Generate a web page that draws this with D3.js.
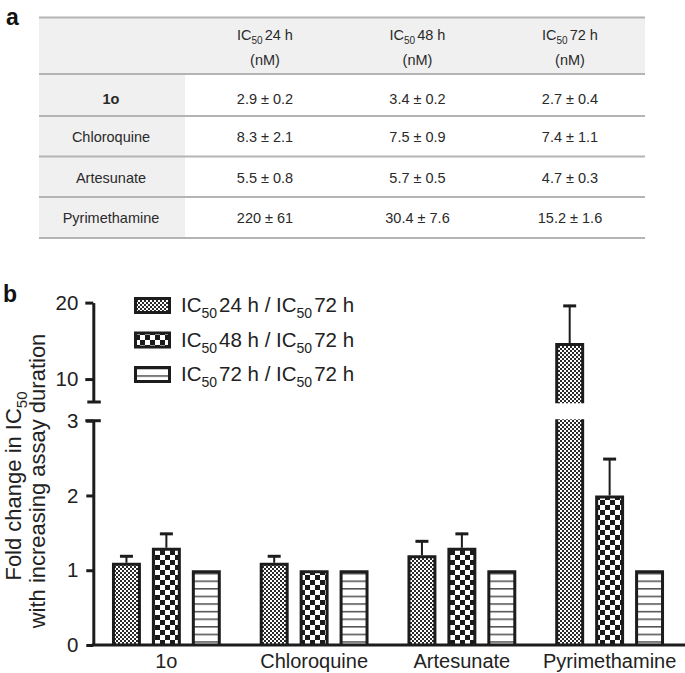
<!DOCTYPE html>
<html><head><meta charset="utf-8">
<script src="https://cdn.jsdelivr.net/npm/d3@7"></script>
<style>
html,body{margin:0;padding:0;background:#fff;}
svg{display:block;font-family:"Liberation Sans",Arial,Helvetica,sans-serif;}
</style></head>
<body>
<svg id="c" width="685" height="673"></svg>
<script>
// ---- Table data (panel a)
const tableRows = ["1o", "Chloroquine", "Artesunate", "Pyrimethamine"];
const tableHeaders = ["24 h", "48 h", "72 h"];
const ic24 = ["2.9 \u00b1 0.2", "8.3 \u00b1 2.1", "5.5 \u00b1 0.8", "220 \u00b1 61"];
const ic48 = ["3.4 \u00b1 0.2", "7.5 \u00b1 0.9", "5.7 \u00b1 0.5", "30.4 \u00b1 7.6"];
const ic72 = ["2.7 \u00b1 0.4", "7.4 \u00b1 1.1", "4.7 \u00b1 0.3", "15.2 \u00b1 1.6"];

// ---- Chart data (panel b)
const categories = ["1o", "Chloroquine", "Artesunate", "Pyrimethamine"];
const seriesKeys = ["24 h", "48 h", "72 h"];
const fold24 = [1.1, 1.1, 1.2, 14.7];
const err24  = [0.1, 0.1, 0.2, 5.0];
const fold48 = [1.3, 1.0, 1.3, 2.0];
const err48  = [0.2, 0.0, 0.2, 0.5];
const fold72 = [1.0, 1.0, 1.0, 1.0];
const err72  = [0.0, 0.0, 0.0, 0.0];
const lowerTicks = [0, 1, 2, 3];
const upperTicks = [10, 20];

const svg = d3.select("#c");
const INK = "#1c1c1c";

// ---------- patterns
const defs = svg.append("defs");
const p1 = defs.append("pattern").attr("id","pat24").attr("patternUnits","userSpaceOnUse").attr("width",4).attr("height",4);
p1.append("rect").attr("width",4).attr("height",4).attr("fill","#fff");
p1.append("rect").attr("width",2).attr("height",2).attr("fill","#2a2a2a");
p1.append("rect").attr("x",2).attr("y",2).attr("width",2).attr("height",2).attr("fill","#2a2a2a");
const p2 = defs.append("pattern").attr("id","pat48").attr("patternUnits","userSpaceOnUse").attr("width",10).attr("height",10);
p2.append("rect").attr("width",10).attr("height",10).attr("fill","#fff");
p2.append("rect").attr("width",5).attr("height",5).attr("fill","#1a1a1a");
p2.append("rect").attr("x",5).attr("y",5).attr("width",5).attr("height",5).attr("fill","#1a1a1a");
const p3 = defs.append("pattern").attr("id","pat72").attr("patternUnits","userSpaceOnUse").attr("width",8).attr("height",7.6);
p3.append("rect").attr("width",8).attr("height",7.6).attr("fill","#fff");
p3.append("rect").attr("y",3).attr("width",8).attr("height",1.3).attr("fill","#333");
const patIds = ["pat24","pat48","pat72"];

// ---------- panel labels
svg.append("text").attr("x",6).attr("y",25).attr("font-size",23).attr("font-weight","bold").attr("fill","#111").text("a");
svg.append("text").attr("x",3).attr("y",302).attr("font-size",23).attr("font-weight","bold").attr("fill","#111").text("b");

// ---------- table
const tL = 39, tR = 645, tColEnd = 185;
const lineYs = [17.5, 74, 116, 156.5, 197, 238];
const colX = d3.scalePoint().domain(tableHeaders).range([265, 570]);
const tg = svg.append("g").attr("font-size",14.5).attr("fill","#2a2a2a");
tg.append("rect").attr("x",tL).attr("y",lineYs[0]).attr("width",tR-tL).attr("height",lineYs[1]-lineYs[0]).attr("fill","#f0f0f0");
tg.append("rect").attr("x",tL).attr("y",lineYs[1]).attr("width",tColEnd-tL).attr("height",lineYs[5]-lineYs[1]).attr("fill","#f0f0f0");
tg.selectAll("line.h").data(lineYs).join("line").attr("class","h")
  .attr("x1",tL).attr("x2",tR).attr("y1",d=>d).attr("y2",d=>d)
  .attr("stroke","#b4b4b4").attr("stroke-width",2);
tableHeaders.forEach(h=>{
  const t = tg.append("text").attr("x",colX(h)).attr("y",40).attr("text-anchor","middle");
  t.append("tspan").text("IC");
  t.append("tspan").attr("font-size",10).attr("dy",4).text("50");
  t.append("tspan").attr("dy",-4).attr("dx",2).text(h);
  tg.append("text").attr("x",colX(h)).attr("y",65).attr("text-anchor","middle").text("(nM)");
});
const rowBase = [103.5, 142, 183, 223];
const cols = [ic24, ic48, ic72];
tableRows.forEach((r,i)=>{
  tg.append("text").attr("x",111).attr("y",rowBase[i]).attr("text-anchor","middle")
    .attr("font-weight", i===0 ? "bold" : "normal").text(r);
  cols.forEach((c,j)=>{
    tg.append("text").attr("x",colX(tableHeaders[j])).attr("y",rowBase[i]).attr("text-anchor","middle").text(c[i]);
  });
});

// ---------- chart scales
const yLow = d3.scaleLinear().domain([0,3]).range([645,420.7]);
const yUp = d3.scaleLinear().domain([7,20]).range([402,302.6]);
const x0 = d3.scaleBand().domain(categories).range([92.5,683.5]).paddingInner(0.2635).paddingOuter(0.13175);
const x1 = d3.scaleBand().domain(seriesKeys).range([0,x0.bandwidth()]).paddingInner(0.275).paddingOuter(0);

const AX = 93.3;
const g = svg.append("g");

// bars
const series = [fold24, fold48, fold72];
const errs = [err24, err48, err72];
const bars = [];
categories.forEach((c,i)=>{
  seriesKeys.forEach((s,j)=>{
    bars.push({cat:c, s, j, v:series[j][i], e:errs[j][i]});
  });
});
const bg = g.append("g");
bars.forEach(b=>{
  const xa = x0(b.cat) + x1(b.s), w = x1.bandwidth();
  const xl = xa + 1.5, xr = xa + w - 1.5;
  const fill = "url(#" + patIds[b.j] + ")";
  let topY;
  if (b.v <= 3) {
    topY = yLow(b.v);
    bg.append("rect").attr("x",xl).attr("y",topY+1.5).attr("width",xr-xl).attr("height",645-topY-1.5).attr("fill",fill);
    bg.append("path").attr("d",`M${xl},645V${topY+1.5}H${xr}V645`).attr("fill","none").attr("stroke",INK).attr("stroke-width",3);
  } else {
    // broken bar: lower piece up to the top of the lower axis, upper piece from the bottom of the upper axis
    const lt = yLow(3) - 1.4;
    bg.append("rect").attr("x",xl).attr("y",lt).attr("width",xr-xl).attr("height",645-lt).attr("fill",fill);
    bg.append("path").attr("d",`M${xl},645V${lt}M${xr},645V${lt}`).attr("fill","none").attr("stroke",INK).attr("stroke-width",3);
    topY = yUp(b.v);
    const ub = yUp(7) + 1.3;
    bg.append("rect").attr("x",xl).attr("y",topY+1.5).attr("width",xr-xl).attr("height",ub-topY-1.5).attr("fill",fill);
    bg.append("path").attr("d",`M${xl},${ub}V${topY+1.5}H${xr}V${ub}`).attr("fill","none").attr("stroke",INK).attr("stroke-width",3);
  }
  if (b.e > 0) {
    const cx = xa + w/2;
    const ey = b.v <= 3 ? yLow(b.v + b.e) : yUp(b.v + b.e);
    bg.append("line").attr("x1",cx).attr("x2",cx).attr("y1",topY).attr("y2",ey).attr("stroke",INK).attr("stroke-width",2);
    bg.append("line").attr("x1",cx-6.5).attr("x2",cx+6.5).attr("y1",ey+1).attr("y2",ey+1).attr("stroke",INK).attr("stroke-width",3);
  }
});

// y axes
const axLow = g.append("g").attr("transform",`translate(${AX},0)`)
  .call(d3.axisLeft(yLow).tickValues(lowerTicks).tickSize(7).tickSizeOuter(0).tickPadding(8).tickFormat(d3.format("d")));
const axUp = g.append("g").attr("transform",`translate(${AX},0)`)
  .call(d3.axisLeft(yUp).tickValues(upperTicks).tickSize(8).tickSizeOuter(0).tickPadding(7).tickFormat(d3.format("d")));
[axLow, axUp].forEach(a=>{
  a.select(".domain").attr("stroke",INK).attr("stroke-width",3);
  a.selectAll(".tick line").attr("stroke",INK).attr("stroke-width",3);
  a.selectAll(".tick text").attr("font-size",20.5).attr("fill","#222").attr("font-family","Liberation Sans, Arial, sans-serif");
});
// break caps
g.append("line").attr("x1",AX-8).attr("x2",AX+7.5).attr("y1",yLow(3)).attr("y2",yLow(3)).attr("stroke",INK).attr("stroke-width",3);
g.append("line").attr("x1",AX-6).attr("x2",AX+7.5).attr("y1",yUp(7)).attr("y2",yUp(7)).attr("stroke",INK).attr("stroke-width",3);

// x axis
const axX = g.append("g").attr("transform","translate(0,645)")
  .call(d3.axisBottom(x0).tickSize(0).tickSizeOuter(0).tickPadding(9));
axX.select(".domain").attr("d","M91.8,0H685").attr("stroke",INK).attr("stroke-width",3);
axX.selectAll(".tick text").attr("font-size",20).attr("fill","#222").attr("font-family","Liberation Sans, Arial, sans-serif");

// y title
svg.append("text").attr("transform","translate(21,486) rotate(-90)").attr("text-anchor","middle")
  .attr("font-size",22).attr("fill","#222")
  .call(t=>{ t.append("tspan").text("Fold change in IC"); t.append("tspan").attr("font-size",15).attr("dy",6).text("50"); });
svg.append("text").attr("transform","translate(45,481) rotate(-90)").attr("text-anchor","middle")
  .attr("font-size",22).attr("fill","#222").text("with increasing assay duration");

// legend
const legY = [297, 331.5, 366];
const lg = svg.append("g");
seriesKeys.forEach((s,j)=>{
  lg.append("rect").attr("x",135.5).attr("y",legY[j]+1.5).attr("width",34).attr("height",14)
    .attr("fill","url(#"+patIds[j]+")").attr("stroke",INK).attr("stroke-width",3);
  const t = lg.append("text").attr("x",181).attr("y",legY[j]+15).attr("font-size",20.5).attr("fill","#222");
  t.append("tspan").text("IC");
  t.append("tspan").attr("font-size",14).attr("dy",6).text("50");
  t.append("tspan").attr("dy",-6).attr("dx",2).text(s + " / IC");
  t.append("tspan").attr("font-size",14).attr("dy",6).text("50");
  t.append("tspan").attr("dy",-6).attr("dx",2).text("72 h");
});
</script>
</body></html>
